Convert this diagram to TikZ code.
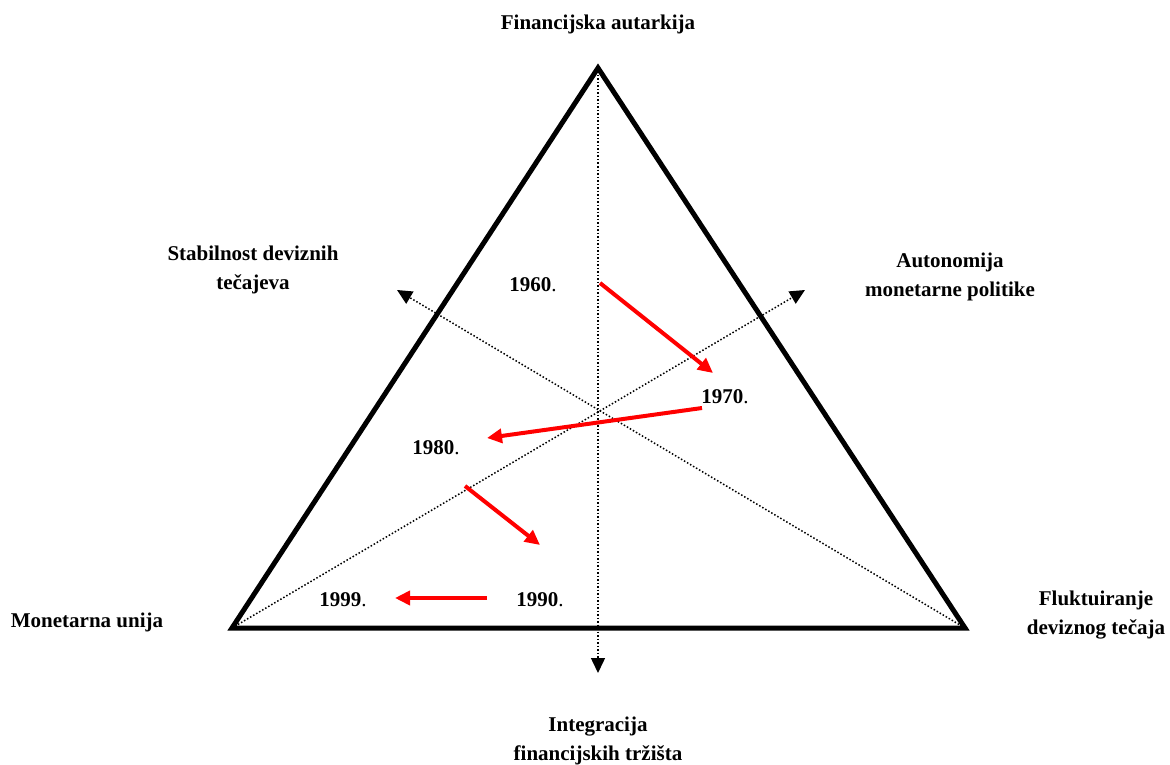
\documentclass[tikz,border=0pt]{standalone}
\usepackage{fontspec}
\setmainfont{Liberation Serif}
\usetikzlibrary{arrows.meta}

\begin{document}
\begin{tikzpicture}[x=1pt, y=-1pt,
        side/.style={line width=5pt, line join=miter},
        axis/.style={dotted, line width=1.5pt, -{Triangle[length=15pt, width=14pt]}},
        move/.style={red, line width=4pt, -{Triangle[length=15pt, width=14pt]}},
        goal/.style={font=\fontsize{21}{28.5}\selectfont\bfseries, align=center},
        year/.style={font=\fontsize{21}{25}\selectfont, inner sep=0pt}]
        \useasboundingbox (0, 0) rectangle (1170, 765);
        % Corners of the triangle and ends of the axes:
        \coordinate (top) at (598, 68);
        \coordinate (left) at (232, 628);
        \coordinate (right) at (965, 628);
        \coordinate (down) at (598, 673);
        \coordinate (upleft) at (397, 290);
        \coordinate (upright) at (805, 290);
        \draw[side] (top) -- (left) -- (right) -- cycle;
        \draw[axis] (top) to (down);
        \draw[axis] (left) to (upright);
        \draw[axis] (right) to (upleft);
        % Corner and axis labels:
        \node[goal] (autarky) at (598, 24) {Financijska autarkija};
        \node[goal] (stable) at (253, 270) {Stabilnost deviznih\\tečajeva};
        \node[goal] (autonomy) at (950, 277) {Autonomija\\monetarne politike};
        \node[goal] (union) at (87, 622) {Monetarna unija};
        \node[goal] (float) at (1096, 615) {Fluktuiranje\\deviznog tečaja};
        \node[goal] (integr) at (598, 741) {Integracija\\financijskih tržišta};
        % Years:
        \node[year] (y60) at (533, 285) {\textbf{1960}.};
        \node[year] (y70) at (725, 397) {\textbf{1970}.};
        \node[year] (y80) at (436, 448) {\textbf{1980}.};
        \node[year] (y90) at (540, 600) {\textbf{1990}.};
        \node[year] (y99) at (343, 600) {\textbf{1999}.};
        % Moves between the decades:
        \coordinate (s1) at (600, 283);
        \coordinate (e1) at (713, 373);
        \coordinate (s2) at (702, 408);
        \coordinate (e2) at (487, 438);
        \coordinate (s3) at (465, 486);
        \coordinate (e3) at (540, 545);
        \coordinate (s4) at (487, 598);
        \coordinate (e4) at (395, 598);
        \draw[move] (s1) to (e1);
        \draw[move] (s2) to (e2);
        \draw[move] (s3) to (e3);
        \draw[move] (s4) to (e4);
\end{tikzpicture}
\end{document}
